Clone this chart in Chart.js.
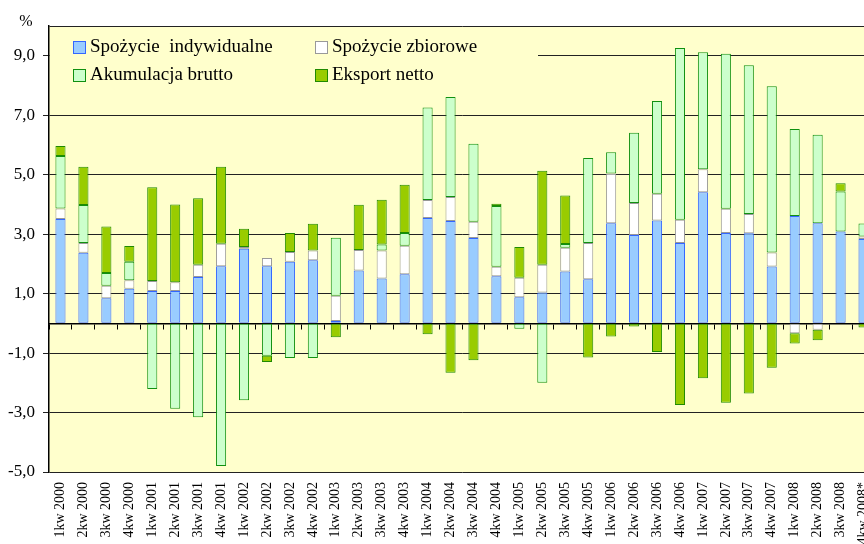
<!DOCTYPE html>
<html lang="pl">
<head>
<meta charset="utf-8">
<title>Czynniki wzrostu PKB</title>
<script src="https://cdn.jsdelivr.net/npm/chart.js@4.4.1/dist/chart.umd.min.js"></script>
<style>
  html, body { margin: 0; padding: 0; background: #fff; overflow: hidden; }
  /* wider than the window on purpose: the last quarter is cut at the right edge */
  #wrap { width: 900px; height: 544px; position: relative; }
</style>
</head>
<body>
<div id="wrap"><canvas id="chart"></canvas></div>
<script>
/** ────── DATA ────── */
const categories = [
  "1kw 2000", "2kw 2000", "3kw 2000", "4kw 2000",
  "1kw 2001", "2kw 2001", "3kw 2001", "4kw 2001",
  "1kw 2002", "2kw 2002", "3kw 2002", "4kw 2002",
  "1kw 2003", "2kw 2003", "3kw 2003", "4kw 2003",
  "1kw 2004", "2kw 2004", "3kw 2004", "4kw 2004",
  "1kw 2005", "2kw 2005", "3kw 2005", "4kw 2005",
  "1kw 2006", "2kw 2006", "3kw 2006", "4kw 2006",
  "1kw 2007", "2kw 2007", "3kw 2007", "4kw 2007",
  "1kw 2008", "2kw 2008", "3kw 2008", "4kw 2008*"
];

const spozycieIndywidualne = [
  3.51, 2.37, 0.84, 1.16, 1.09, 1.09, 1.56, 1.92, 2.51, 1.92, 2.07, 2.12,
  0.08, 1.78, 1.51, 1.65, 3.54, 3.44, 2.87, 1.58, 0.88, 1.04, 1.74, 1.48,
  3.37, 2.97, 3.46, 2.70, 4.41, 3.04, 3.03, 1.91, 3.61, 3.37, 3.09, 2.84
];
const spozycieZbiorowe = [
  0.35, 0.33, 0.42, 0.29, 0.33, 0.29, 0.41, 0.76, 0.06, 0.28, 0.33, 0.33,
  0.85, 0.69, 0.94, 0.96, 0.61, 0.81, 0.55, 0.32, 0.65, 0.93, 0.80, 1.22,
  1.67, 1.08, 0.90, 0.78, 0.77, 0.81, 0.65, 0.47, -0.33, -0.22, 0.0, 0.08
];
const akumulacjaBrutto = [
  1.77, 1.28, 0.43, 0.62, -2.21, -2.87, -3.16, -4.80, -2.59, -1.09, -1.17, -1.17,
  1.95, 0.0, 0.20, 0.43, 3.11, 3.36, 2.62, 2.05, -0.18, -2.00, 0.13, 2.86,
  0.71, 2.36, 3.12, 5.78, 3.94, 5.22, 5.00, 5.59, 2.93, 2.97, 1.34, 0.44
];
const eksportNetto = [
  0.33, 1.29, 1.57, 0.53, 3.16, 2.62, 2.24, 2.59, 0.61, -0.21, 0.64, 0.90,
  -0.47, 1.52, 1.51, 1.62, -0.37, -1.66, -1.24, 0.07, 1.04, 3.16, 1.63, -1.15,
  -0.44, -0.11, -0.96, -2.75, -1.85, -2.67, -2.36, -1.49, -0.35, -0.35, 0.28, -0.14
];

const yMin = -5;
const yMax = 10;

/** ────── HELPERS ────── */
const SERIF = "'Liberation Serif', 'Times New Roman', serif";
Chart.defaults.font.family = SERIF;
Chart.defaults.color = "#000";

const isLabelled = (v) => Math.abs(v) % 2 === 1;
const fmt = (v) => v.toFixed(1).replace(".", ",");

function series(label, data, fill, border) {
  return {
    label,
    data,
    backgroundColor: fill,
    borderColor: border,
    borderWidth: 1,
    borderSkipped: false,
    barPercentage: 0.44,
    categoryPercentage: 1,
  };
}

/** ────── PLUGINS ────── */
const plotBackground = {
  id: "plotBackground",
  beforeDraw(chart) {
    const { ctx, chartArea: a } = chart;
    ctx.save();
    ctx.fillStyle = "#FFFFCC";
    ctx.fillRect(a.left, a.top, a.right - a.left, a.bottom - a.top);
    ctx.restore();
  },
};

// 2 x 2 legend inside the plot, drawn over the grid
const insideLegend = {
  id: "insideLegend",
  beforeDatasetsDraw(chart) {
    const { ctx, chartArea: a } = chart;
    const sets = chart.data.datasets;
    const order = [0, 1, 2, 3];
    ctx.save();
    ctx.fillStyle = "#FFFFCC";
    ctx.fillRect(a.left + 1, a.top + 1, 488, 60);
    ctx.font = `19px ${SERIF}`;
    ctx.textBaseline = "middle";
    order.forEach((i) => {
      const col = i % 2;
      const row = Math.floor(i / 2);
      const bx = a.left + 24 + col * 242;
      const by = a.top + 15 + row * 28;
      ctx.fillStyle = sets[i].backgroundColor;
      ctx.fillRect(bx, by, 12, 12);
      ctx.strokeStyle = sets[i].borderColor;
      ctx.lineWidth = 1;
      ctx.strokeRect(bx + 0.5, by + 0.5, 12, 12);
      ctx.fillStyle = "#000";
      ctx.fillText(sets[i].label, bx + 17, by + 6);
    });
    ctx.restore();
  },
};

const unitLabel = {
  id: "unitLabel",
  afterDraw(chart) {
    const { ctx, chartArea: a } = chart;
    ctx.save();
    ctx.font = `16px ${SERIF}`;
    ctx.fillStyle = "#000";
    ctx.textAlign = "center";
    ctx.textBaseline = "middle";
    ctx.fillText("%", a.left - 23, a.top - 4);
    ctx.restore();
  },
};

/** ────── CHART ────── */
new Chart(document.getElementById("chart"), {
  type: "bar",
  data: {
    labels: categories,
    datasets: [
      series("Spożycie  indywidualne", spozycieIndywidualne, "#99CCFF", "#3366FF"),
      series("Spożycie zbiorowe", spozycieZbiorowe, "#FFFFFF", "#999999"),
      series("Akumulacja brutto", akumulacjaBrutto, "#CCFFCC", "#109010"),
      series("Eksport netto", eksportNetto, "#99CC00", "#208A00"),
    ],
  },
  options: {
    responsive: true,
    maintainAspectRatio: false,
    animation: false,
    layout: { padding: { top: 26, right: 25, left: 0, bottom: 0 } },
    plugins: {
      legend: { display: false },
      tooltip: { enabled: false },
    },
    scales: {
      // zero line with the little category ticks
      x: {
        stacked: true,
        position: { y: 0 },
        z: 1,
        offset: true,
        ticks: { display: false },
        grid: {
          offset: true,
          drawOnChartArea: false,
          drawTicks: true,
          tickLength: 5,
          tickColor: "#000",
        },
        border: { display: true, color: "#000", width: 1.5 },
      },
      // category labels under the plot
      x2: {
        type: "category",
        labels: categories,
        position: "bottom",
        offset: true,
        grid: { display: false, drawTicks: false },
        border: { display: false },
        ticks: {
          autoSkip: false,
          minRotation: 90,
          maxRotation: 90,
          padding: 10,
          font: { size: 14 },
          color: "#000",
        },
        afterFit: (scale) => { scale.height = 72; },
      },
      y: {
        stacked: true,
        min: yMin,
        max: yMax,
        ticks: {
          stepSize: 1,
          padding: 8,
          font: { size: 17 },
          color: "#000",
          callback: (v) => (isLabelled(v) ? fmt(v) : ""),
        },
        grid: {
          color: (c) => (c.tick && (isLabelled(c.tick.value) || c.tick.value === yMax) ? "#222" : "rgba(0,0,0,0)"),
          tickColor: (c) => (c.tick && isLabelled(c.tick.value) ? "#222" : "rgba(0,0,0,0)"),
          tickLength: 6,
          lineWidth: 1,
        },
        border: { display: true, color: "#000", width: 1.5 },
        afterFit: (scale) => { scale.width = 49; },
      },
    },
  },
  plugins: [plotBackground, insideLegend, unitLabel],
});
</script>
</body>
</html>
